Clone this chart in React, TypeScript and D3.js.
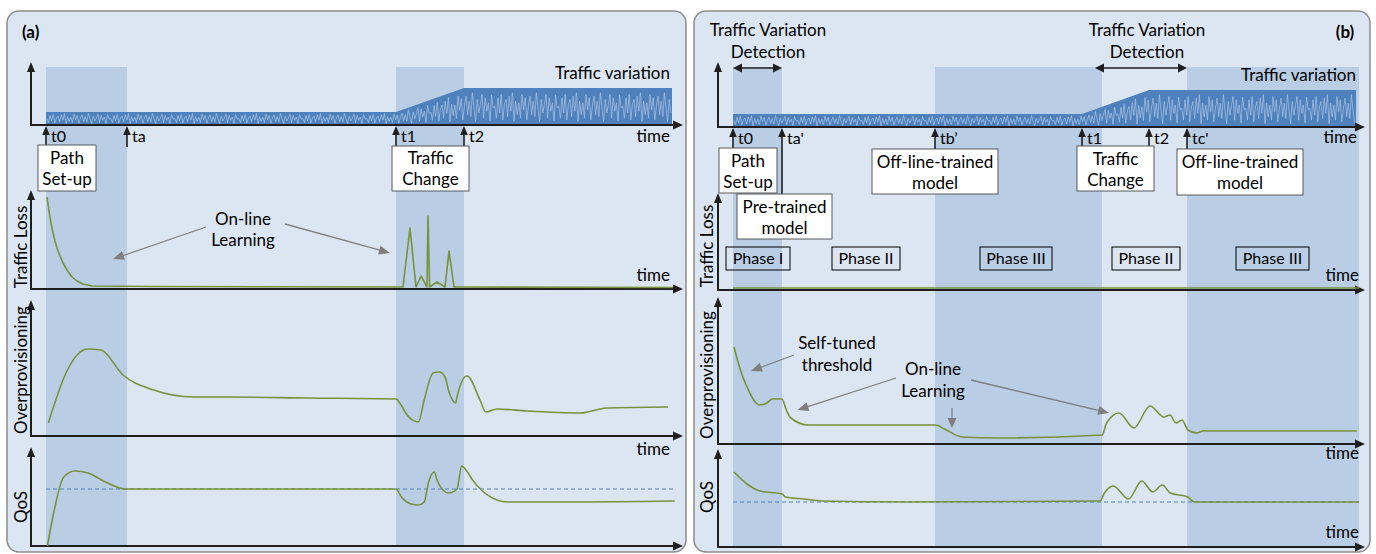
import React from "react";
import * as d3 from "d3";

type Pt = [number, number];

// ---------- Panel (a): on-line learning only ----------
const eventsA = [
  { label: "t0", t: 7.5 },
  { label: "ta", t: 48 },
  { label: "t1", t: 182.5 },
  { label: "t2", t: 216.5 },
];
const bandsA: Pt[] = [[7.5, 48], [182.5, 216.5]];
const trafficA: Pt[] = [[7.5, 13], [182.5, 13], [216.5, 37], [320.5, 37]];
const lossA: Pt[] = [
  [8, 92], [9, 78], [10, 66], [11, 56], [12, 48], [13, 41], [14.5, 33], [16, 26], [18, 19],
  [20.5, 12], [23, 8], [26, 5], [30.5, 3], [60, 2.5],
  [186, 2], [189.5, 61], [192.5, 2], [195, 13], [198, 2], [198.5, 73], [199.3, 2],
  [203, 7], [207, 2], [209, 38], [211.5, 2], [321, 1.5],
];
const overA: Pt[] = [
  [8.7, 13], [17.5, 63], [24, 83], [28.5, 87], [35, 86], [46, 61], [61.4, 46], [81.2, 39],
  [98.8, 39], [138.4, 38], [182.5, 37], [185, 31], [188, 21], [193.7, 14], [196.6, 36],
  [201, 63], [204.3, 64], [207, 59], [209, 44], [212.4, 33], [213, 39], [218, 60],
  [224.5, 36], [227.4, 24], [233, 27], [248, 25], [274.6, 23], [287.8, 28], [318.5, 29],
];
const qosA: Pt[] = [
  [8.2, 0], [10.9, 29], [16.4, 69], [21.9, 75], [28.5, 73], [37.2, 64], [47.1, 57],
  [182.3, 57], [185.6, 48], [190, 42], [193.7, 41], [196.6, 44], [198.8, 64], [201.6, 74],
  [203.2, 65], [208.7, 53], [213, 57], [215.3, 80], [217.5, 76], [220.8, 66], [225.2, 56],
  [230.7, 48], [238.4, 44], [270.2, 44], [321.9, 45],
];
const qosTargetA = 57;
const qosTargetSpanA: Pt = [7.5, 322];

// ---------- Panel (b): pre-trained / off-line-trained models ----------
const eventsB = [
  { label: "t0", t: 7.5 },
  { label: "ta'", t: 32 },
  { label: "tb\u2019", t: 108.5 },
  { label: "t1", t: 182 },
  { label: "t2", t: 215.5 },
  { label: "tc'", t: 234.5 },
];
const bandsB: Pt[] = [[7.5, 32], [108.5, 192], [234.5, 320.5]];
const detectionSpansB: Pt[] = [[7.5, 32], [188.5, 234.5]];
const trafficB: Pt[] = [[7.5, 13], [182, 13], [215.5, 37], [319, 37]];
const lossB: Pt[] = [[7.5, 2], [320.5, 2]];
const overB: Pt[] = [
  [8, 97], [11.2, 74], [14.5, 57], [20.7, 39], [24.4, 41], [27.2, 45], [32, 45], [34.2, 34],
  [36.4, 26], [45.2, 19], [108.8, 19], [113.2, 15], [122, 7], [139.5, 6], [192, 9],
  [194.3, 21], [200.5, 31], [208, 16], [216, 38], [223, 27], [226, 29], [229, 21], [232, 24],
  [235, 14], [239.3, 11], [242.5, 13], [319.4, 13],
];
const qosB: Pt[] = [
  [8, 75], [14.5, 63], [21, 56], [32, 53], [33.8, 50], [43, 48], [51.8, 46], [95.6, 45],
  [191, 46], [193.2, 54], [197.6, 61], [205.3, 48], [211.9, 66], [217.4, 55], [222.2, 62],
  [226.1, 54], [234.9, 50], [238.2, 45], [320.4, 45],
];
const qosTargetB = 45;
const qosTargetSpanB: Pt = [7.5, 320.5];
const phaseLabels = ["Phase I", "Phase II", "Phase III", "Phase II", "Phase III"];

// Hand-drawn jitter used to texture the traffic bands
const noisePattern = [
  0.55, 0.2, 0.8, 0.35, 0.9, 0.15, 0.6, 0.75, 0.25, 0.85, 0.4, 0.95, 0.1, 0.7, 0.3, 0.65,
  0.2, 0.9, 0.45, 0.8, 0.15, 0.55, 0.85, 0.3, 0.7, 0.25, 0.95, 0.5, 0.1, 0.75, 0.35, 0.6,
  0.9, 0.2, 0.8, 0.4, 0.65, 0.12, 0.88, 0.5,
];

// ---------- styling ----------
const FONT = "Lato, 'Open Sans', sans-serif";
const FS = 17;
const PANEL_FILL = "#dce6f2";
const PANEL_STROKE = "#8c8c8c";
const BAND = "#b9cde5";
const TRAFFIC = "#4f81bd";
const TRAFFIC_LIGHT = "#a9c1e2";
const GREEN = "#77933c";
const AXIS = "#1f1f1f";
const GRAY = "#7f7f7f";

type Row = { axis: number; top: number };
const rowsA: Record<string, Row> = {
  traffic: { axis: 125, top: 62 },
  loss: { axis: 289, top: 190 },
  over: { axis: 436, top: 300 },
  qos: { axis: 546, top: 447 },
};
const rowsB: Record<string, Row> = {
  traffic: { axis: 127, top: 62 },
  loss: { axis: 290, top: 193 },
  over: { axis: 444, top: 297 },
  qos: { axis: 547, top: 449 },
};

const xA = d3.scaleLinear().domain([0, 326]).range([31, 683]);
const xB = d3.scaleLinear().domain([0, 323.5]).range([718, 1365]);

const yOf = (r: Row) => d3.scaleLinear().domain([0, r.axis - r.top]).range([r.axis, r.top]);

function headPath(x1: number, y1: number, x2: number, y2: number, len: number, hw: number) {
  const dx = x2 - x1, dy = y2 - y1, d = Math.hypot(dx, dy);
  const ux = dx / d, uy = dy / d;
  const bx = x2 - ux * len, by = y2 - uy * len;
  const px = -uy, py = ux;
  return `M${x2},${y2}L${bx + px * hw},${by + py * hw}L${bx - px * hw},${by - py * hw}Z`;
}

function Arrow({ x1, y1, x2, y2, color, width = 1.5, len = 9, hw = 4, both = false }: any) {
  const d = Math.hypot(x2 - x1, y2 - y1);
  const ux = (x2 - x1) / d, uy = (y2 - y1) / d;
  const ex = x2 - ux * len * 0.7, ey = y2 - uy * len * 0.7;
  const sx = both ? x1 + ux * len * 0.7 : x1, sy = both ? y1 + uy * len * 0.7 : y1;
  return (
    <g>
      <line x1={sx} y1={sy} x2={ex} y2={ey} stroke={color} strokeWidth={width} />
      <path d={headPath(x1, y1, x2, y2, len, hw)} fill={color} />
      {both && <path d={headPath(x2, y2, x1, y1, len, hw)} fill={color} />}
    </g>
  );
}

function Axes({ x0, x1, row }: { x0: number; x1: number; row: Row }) {
  return (
    <g>
      <Arrow x1={x0} y1={row.axis + 1} x2={x0} y2={row.top} color={AXIS} width={2} len={10} hw={4} />
      <Arrow x1={x0 - 1} y1={row.axis} x2={x1} y2={row.axis} color={AXIS} width={2} len={10} hw={4.5} />
    </g>
  );
}

function Traffic({ x, row, profile }: { x: d3.ScaleLinear<number, number>; row: Row; profile: Pt[] }) {
  const y = yOf(row);
  const level = d3.scaleLinear().domain(profile.map((d) => d[0])).range(profile.map((d) => d[1]));
  const area = d3.area<Pt>().x((d) => x(d[0])).y0(row.axis).y1((d) => y(d[1]));
  const t0 = profile[0][0], t1 = profile[profile.length - 1][0];
  const steps = d3.range(t0 + 0.4, t1 - 0.2, 0.8);
  const jitter: Pt[] = steps.map((t, i) => [t, level(t) * noisePattern[i % noisePattern.length] * 0.92]);
  const line = d3.line<Pt>().x((d) => x(d[0])).y((d) => y(d[1]));
  return (
    <g>
      <path d={area(profile) || ""} fill={TRAFFIC} />
      <path d={line(jitter) || ""} fill="none" stroke={TRAFFIC_LIGHT} strokeWidth={0.8} opacity={0.9} />
    </g>
  );
}

function Series({ x, row, data, curve = d3.curveMonotoneX }: any) {
  const y = yOf(row);
  const line = d3.line<Pt>().x((d) => x(d[0])).y((d) => y(d[1])).curve(curve);
  return <path d={line(data) || ""} fill="none" stroke={GREEN} strokeWidth={1.6} strokeLinejoin="round" />;
}

function Target({ x, row, value, span }: any) {
  const y = yOf(row);
  return (
    <line x1={x(span[0])} x2={x(span[1])} y1={y(value)} y2={y(value)} stroke={TRAFFIC}
      strokeWidth={1.2} strokeDasharray="4 3" />
  );
}

function Txt({ x, y, children, anchor = "middle", size = FS, weight = "normal" }: any) {
  return (
    <text x={x} y={y} textAnchor={anchor} fontSize={size} fontWeight={weight} fontFamily={FONT} fill="#000">
      {children}
    </text>
  );
}

function Box({ x, y, w, h, lines, fill = "#fff", stroke = "#595959", size = FS, baselines }: any) {
  return (
    <g>
      <rect x={x} y={y} width={w} height={h} fill={fill} stroke={stroke} strokeWidth={1} />
      {lines.map((l: string, i: number) => (
        <Txt key={i} x={x + w / 2} y={baselines[i]} size={size}>{l}</Txt>
      ))}
    </g>
  );
}

function YLabel({ x, cy, text }: { x: number; cy: number; text: string }) {
  return (
    <text transform={`translate(${x},${cy}) rotate(-90)`} textAnchor="middle" fontSize={FS}
      fontFamily={FONT} fill="#000">{text}</text>
  );
}

function Ticks({ x, axisY, events, ends }: any) {
  return (
    <g>
      {events.map((e: any, i: number) => (
        <g key={i}>
          <Arrow x1={x(e.t)} y1={ends[i]} x2={x(e.t)} y2={axisY + 1} color={AXIS} width={1.6} len={9} hw={3.8} />
          <Txt x={x(e.t) + 5} y={axisY + 17} anchor="start" size={16}>{e.label}</Txt>
        </g>
      ))}
    </g>
  );
}

export default function App() {
  const bandTop = 67;
  return (
    <svg width={1376} height={554} style={{ position: "absolute", left: 0, top: 0, background: "#fff" }}>
      {/* ---------------- panel (a) ---------------- */}
      <rect x={7} y={11} width={679} height={541} rx={12} fill={PANEL_FILL} stroke={PANEL_STROKE} strokeWidth={1.5} />
      {bandsA.map((b, i) => (
        <rect key={i} x={xA(b[0])} y={bandTop} width={xA(b[1]) - xA(b[0])} height={rowsA.qos.axis - bandTop} fill={BAND} />
      ))}
      <Traffic x={xA} row={rowsA.traffic} profile={trafficA} />
      <Axes x0={31} x1={683} row={rowsA.traffic} />
      <Axes x0={31} x1={683} row={rowsA.loss} />
      <Axes x0={31} x1={683} row={rowsA.over} />
      <Axes x0={31} x1={683} row={rowsA.qos} />
      <Series x={xA} row={rowsA.loss} data={lossA} curve={d3.curveLinear} />
      <Series x={xA} row={rowsA.over} data={overA} />
      <Target x={xA} row={rowsA.qos} value={qosTargetA} span={qosTargetSpanA} />
      <Series x={xA} row={rowsA.qos} data={qosA} />
      <Ticks x={xA} axisY={rowsA.traffic.axis} events={eventsA} ends={[145, 147, 146, 146]} />
      <Box x={38} y={145} w={58} h={46} lines={["Path", "Set-up"]} baselines={[164, 185]} />
      <Box x={392} y={146} w={77} h={45} lines={["Traffic", "Change"]} baselines={[164, 185]} />
      <Txt x={22} y={38} anchor="start" weight="bold">(a)</Txt>
      <Txt x={670} y={79} anchor="end">Traffic variation</Txt>
      <Txt x={670} y={142} anchor="end">time</Txt>
      <Txt x={670} y={281} anchor="end">time</Txt>
      <Txt x={670} y={455} anchor="end">time</Txt>
      <YLabel x={27} cy={247} text="Traffic Loss" />
      <YLabel x={27} cy={370} text="Overprovisioning" />
      <YLabel x={27} cy={507} text="QoS" />
      <Txt x={243} y={225}>On-line</Txt>
      <Txt x={243} y={246}>Learning</Txt>
      <Arrow x1={206} y1={227} x2={113} y2={259} color={GRAY} width={1.3} len={11} hw={4.5} />
      <Arrow x1={285} y1={224} x2={390} y2={253} color={GRAY} width={1.3} len={11} hw={4.5} />

      {/* ---------------- panel (b) ---------------- */}
      <rect x={694} y={11} width={676} height={541} rx={12} fill={PANEL_FILL} stroke={PANEL_STROKE} strokeWidth={1.5} />
      {bandsB.map((b, i) => (
        <rect key={i} x={xB(b[0])} y={bandTop} width={xB(b[1]) - xB(b[0])} height={rowsB.qos.axis - bandTop} fill={BAND} />
      ))}
      <Traffic x={xB} row={rowsB.traffic} profile={trafficB} />
      <Axes x0={718} x1={1365} row={rowsB.traffic} />
      <Axes x0={718} x1={1365} row={rowsB.loss} />
      <Axes x0={718} x1={1365} row={rowsB.over} />
      <Axes x0={718} x1={1365} row={rowsB.qos} />
      <Series x={xB} row={rowsB.loss} data={lossB} />
      <Series x={xB} row={rowsB.over} data={overB} />
      <Target x={xB} row={rowsB.qos} value={qosTargetB} span={qosTargetSpanB} />
      <Series x={xB} row={rowsB.qos} data={qosB} />
      <Ticks x={xB} axisY={rowsB.traffic.axis} events={eventsB} ends={[148, 194, 149, 146, 146, 149]} />
      {detectionSpansB.map((s, i) => (
        <Arrow key={i} x1={xB(s[0])} y1={68} x2={xB(s[1])} y2={68} color={AXIS} width={1.5} len={9} hw={4.5} both />
      ))}
      <Txt x={768} y={36}>Traffic Variation</Txt>
      <Txt x={768} y={58}>Detection</Txt>
      <Txt x={1147} y={36}>Traffic Variation</Txt>
      <Txt x={1147} y={58}>Detection</Txt>
      <Txt x={1345} y={38} weight="bold">(b)</Txt>
      <Txt x={1356} y={81} anchor="end">Traffic variation</Txt>
      <Txt x={1357} y={143} anchor="end">time</Txt>
      <Txt x={1359} y={281} anchor="end">time</Txt>
      <Txt x={1359} y={459} anchor="end">time</Txt>
      <Txt x={1359} y={538} anchor="end">time</Txt>
      <Box x={719} y={148} w={58} h={45} lines={["Path", "Set-up"]} baselines={[167, 188]} />
      <Box x={737} y={194} w={95} h={45} lines={["Pre-trained", "model"]} baselines={[213, 234]} />
      <Box x={872} y={149} w={126} h={45} lines={["Off-line-trained", "model"]} baselines={[168, 189]} />
      <Box x={1077} y={146} w={77} h={45} lines={["Traffic", "Change"]} baselines={[165, 186]} />
      <Box x={1177} y={149} w={126} h={46} lines={["Off-line-trained", "model"]} baselines={[168, 189]} />
      {phaseLabels.map((p, i) => {
        const spec = [[726, 64], [832, 68], [980, 72], [1112, 68], [1236, 73]][i];
        return (
          <Box key={i} x={spec[0]} y={247} w={spec[1]} h={23} lines={[p]} baselines={[264]} fill="none" stroke="#000" size={16} />
        );
      })}
      <YLabel x={713} cy={246} text="Traffic Loss" />
      <YLabel x={713} cy={375} text="Overprovisioning" />
      <YLabel x={713} cy={497} text="QoS" />
      <Txt x={837} y={349}>Self-tuned</Txt>
      <Txt x={837} y={371}>threshold</Txt>
      <Arrow x1={794} y1={355} x2={751} y2={371} color={GRAY} width={1.3} len={11} hw={4.5} />
      <Txt x={933} y={375}>On-line</Txt>
      <Txt x={933} y={397}>Learning</Txt>
      <Arrow x1={896} y1={378} x2={797.5} y2={410} color={GRAY} width={1.3} len={11} hw={4.5} />
      <Arrow x1={952} y1={408} x2={952} y2={428} color={GRAY} width={1.3} len={10} hw={4.5} />
      <Arrow x1={971} y1={380} x2={1109} y2={413} color={GRAY} width={1.3} len={11} hw={4.5} />
    </svg>
  );
}
